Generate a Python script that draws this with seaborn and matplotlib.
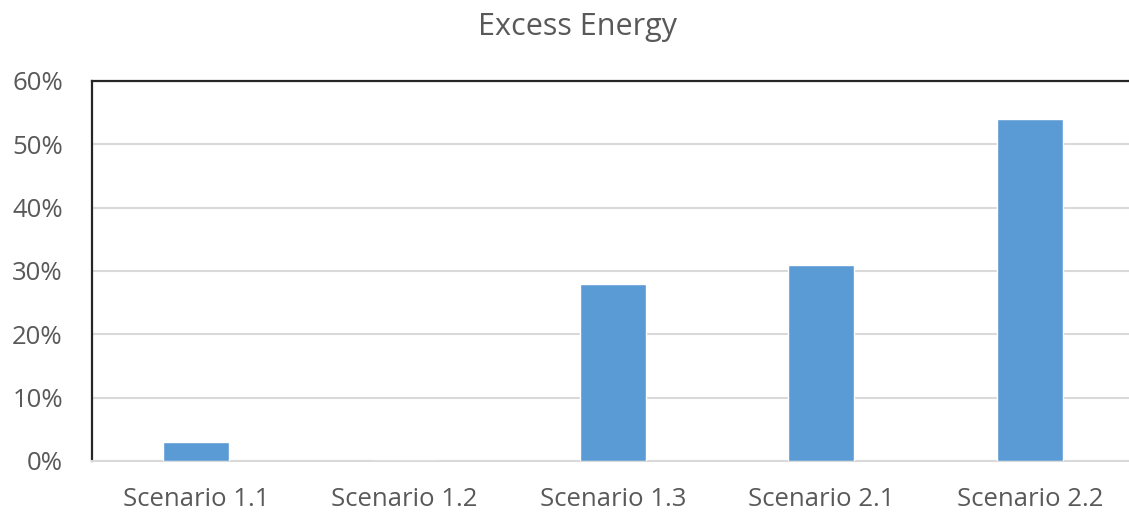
import matplotlib
matplotlib.use("Agg")
import matplotlib.pyplot as plt
from matplotlib.ticker import PercentFormatter
import seaborn as sns
import pandas as pd

scenarios = ["Scenario 1.1", "Scenario 1.2", "Scenario 1.3", "Scenario 2.1", "Scenario 2.2"]
excess_energy = [0.03, 0.0, 0.28, 0.31, 0.54]
y_ticks = [0.0, 0.1, 0.2, 0.3, 0.4, 0.5, 0.6]

df = pd.DataFrame({"Scenario": scenarios, "Excess": excess_energy})

sns.set_theme(style="white")
plt.rcParams["font.family"] = ["Open Sans", "DejaVu Sans"]

text_color = "#595959"
grid_color = "#d9d9d9"
bar_color = "#5b9bd5"

fig = plt.figure(figsize=(11.29, 5.15), dpi=100)
ax = fig.add_axes([92 / 1129, 54 / 515, 1042 / 1129, 380 / 515])

sns.barplot(data=df, x="Scenario", y="Excess", color=bar_color, width=0.317,
            saturation=1, ax=ax, zorder=3)

ax.set_xlim(-0.5, len(scenarios) - 0.5)
ax.set_ylim(0, 0.6)
ax.set_yticks(y_ticks)
ax.yaxis.set_major_formatter(PercentFormatter(1.0, decimals=0))
ax.grid(axis="y", color=grid_color, linewidth=1.5, zorder=0)
ax.set_axisbelow(True)

ax.set_xlabel("")
ax.set_ylabel("")
ax.tick_params(axis="both", length=0, labelsize=18.5, colors=text_color)
ax.tick_params(axis="y", pad=21)
ax.tick_params(axis="x", pad=19)

for side in ("left", "top"):
    ax.spines[side].set_color("#262626")
    ax.spines[side].set_linewidth(1.6)
ax.spines["right"].set_visible(False)
ax.spines["bottom"].set_color(grid_color)
ax.spines["bottom"].set_linewidth(1.5)

fig.text(577 / 1129, 1 - 27 / 515, "Excess Energy", ha="center", va="center",
         fontsize=22, color=text_color)

fig.savefig("out.png", dpi=100)
